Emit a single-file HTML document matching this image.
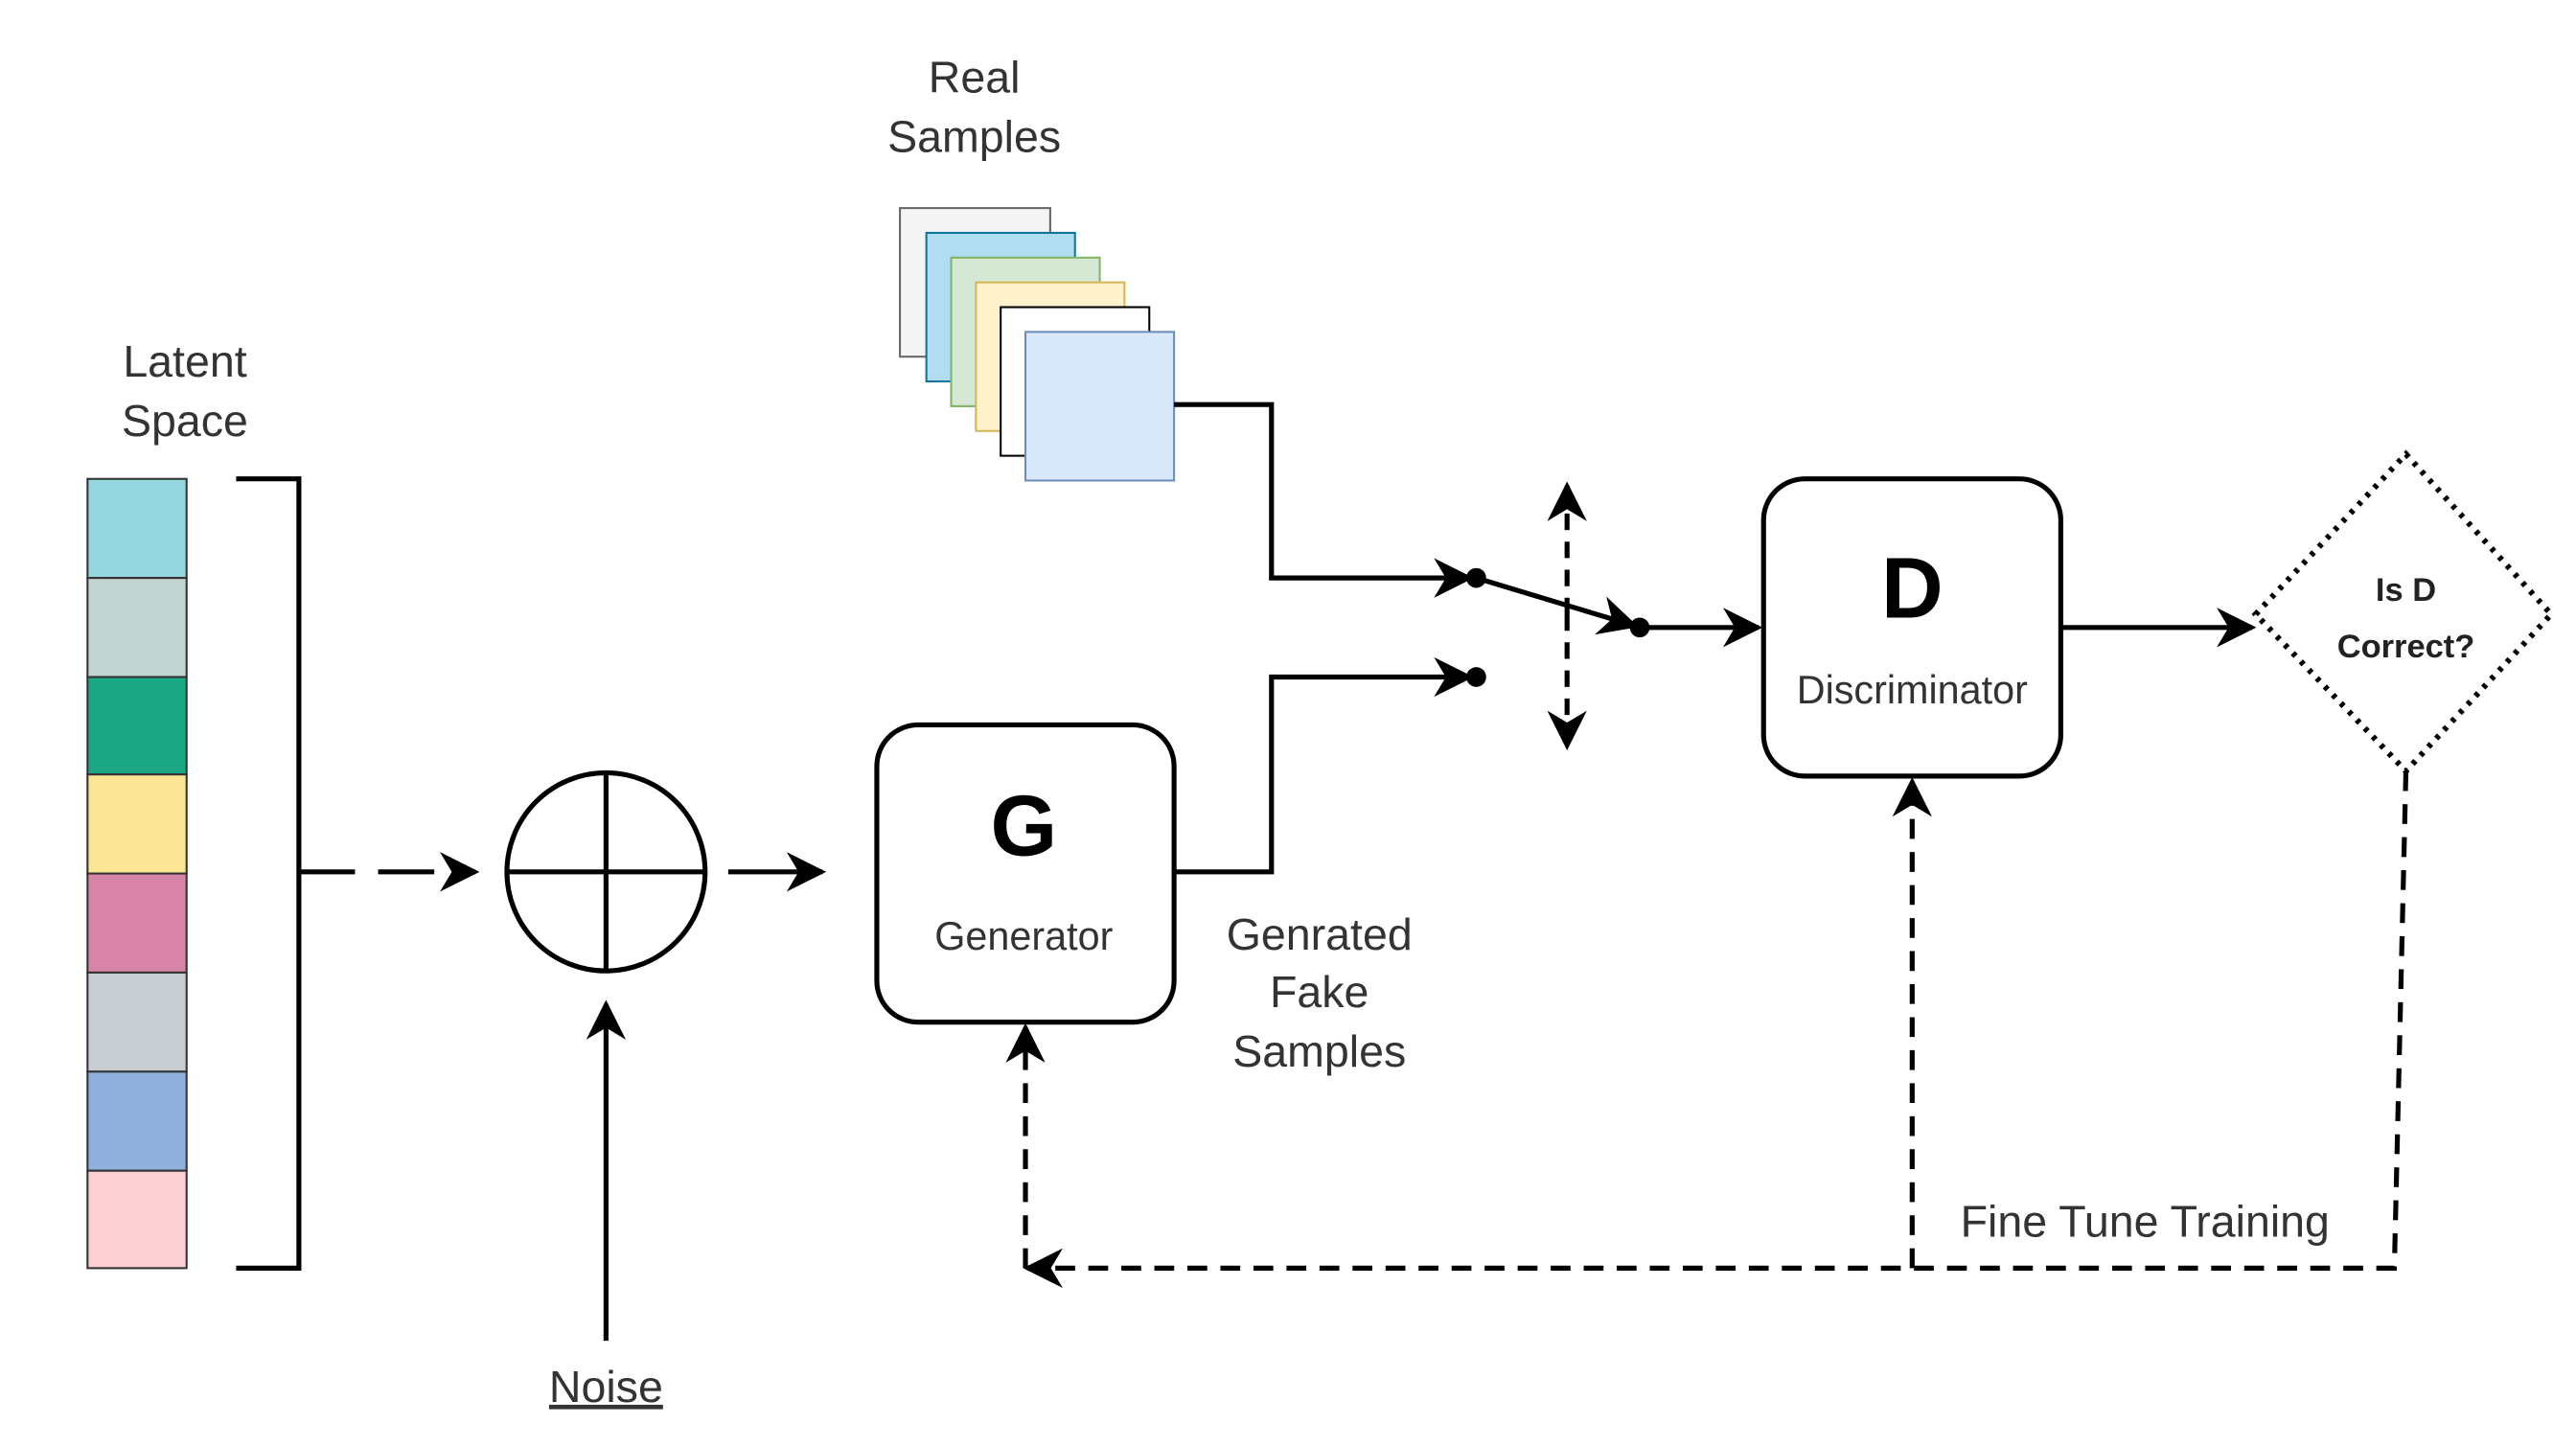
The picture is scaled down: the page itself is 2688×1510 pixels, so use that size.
<!DOCTYPE html>
<html><head><meta charset="utf-8"><style>html,body{margin:0;padding:0;background:#fff}svg{display:block}</style></head>
<body>
<svg width="2688" height="1510" viewBox="0 0 1560 876.3" xmlns="http://www.w3.org/2000/svg" font-family="Liberation Sans, sans-serif">
<defs>
<marker id="b" viewBox="0 0 10 10" refX="9" refY="5" markerWidth="24" markerHeight="24" markerUnits="userSpaceOnUse" orient="auto"><path d="M0,0 L10,5 L0,10 L3,5 z" fill="#000"/></marker>
</defs>
<g fill="#333" font-size="27" text-anchor="middle">
<text x="590" y="56">Real</text><text x="590" y="92">Samples</text>
<text x="112" y="228">Latent</text><text x="112" y="264">Space</text>
<text x="799" y="575">Genrated</text><text x="799" y="610">Fake</text><text x="799" y="646">Samples</text>
<text x="1299" y="749">Fine Tune Training</text>
<text x="367" y="849" text-decoration="underline">Noise</text>
</g>
<!-- samples -->
<rect x="545" y="126" width="91" height="90" fill="#f5f5f5" stroke="#666" stroke-width="1.2"/>
<rect x="561" y="141" width="90" height="90" fill="#b1ddf0" stroke="#10739e" stroke-width="1.2"/>
<rect x="576" y="156" width="90" height="90" fill="#d5e8d4" stroke="#82b366" stroke-width="1.2"/>
<rect x="591" y="171" width="90" height="90" fill="#fff2cc" stroke="#d6b656" stroke-width="1.2"/>
<rect x="606" y="186" width="90" height="90" fill="#fff" stroke="#000" stroke-width="1.2"/>
<rect x="621" y="201" width="90" height="90" fill="#dae8fc" stroke="#6c8ebf" stroke-width="1.2"/>
<!-- latent -->
<g stroke="#333" stroke-width="1.2">
<rect x="53" y="290" width="60" height="60" fill="#93d6dd"/>
<rect x="53" y="350" width="60" height="60" fill="#c3d5d3"/>
<rect x="53" y="410" width="60" height="59" fill="#1ba784"/>
<rect x="53" y="469" width="60" height="60" fill="#fce595"/>
<rect x="53" y="529" width="60" height="60" fill="#d784a8"/>
<rect x="53" y="589" width="60" height="60" fill="#c8ccd3"/>
<rect x="53" y="649" width="60" height="60" fill="#8fb0dc"/>
<rect x="53" y="709" width="60" height="59" fill="#fccfd4"/>
</g>
<g fill="none" stroke="#000" stroke-width="3">
<path d="M143,290 H181 V768 H143"/>
<path d="M181,528 H288" stroke-dasharray="34,14" marker-end="url(#b)"/>
<circle cx="367" cy="528" r="60"/>
<path d="M307,528 H427 M367,468 V588"/>
<path d="M441,528 H498" marker-end="url(#b)"/>
<path d="M367,812 V608" marker-end="url(#b)"/>
<rect x="531" y="439" width="180" height="180" rx="25"/>
<rect x="1068" y="290" width="180" height="180" rx="25"/>
<path d="M711,245 H770 V350 H890" marker-end="url(#b)"/>
<path d="M711,528 H770 V410 H890" marker-end="url(#b)"/>
<path d="M894,350 L990,379" marker-end="url(#b)"/>
<path d="M993,380 H1065" marker-end="url(#b)"/>
<path d="M1248,380 H1364" marker-end="url(#b)"/>
<path d="M949,372 V294" stroke-dasharray="10,7" marker-end="url(#b)"/>
<path d="M949,372 V452" stroke-dasharray="10,7" marker-end="url(#b)"/>
<path d="M1457,275 L1545,372 L1457,467 L1366,372 Z" stroke-dasharray="2.5,4.5" stroke-width="3.5"/>
<path d="M1457,467 L1450,768 H622" stroke-dasharray="12,8" marker-end="url(#b)"/>
<path d="M621,768 V622" stroke-dasharray="12,8" marker-end="url(#b)"/>
<path d="M1158,768 V473" stroke-dasharray="12,8" marker-end="url(#b)"/>
</g>
<circle cx="894" cy="350" r="6"/><circle cx="894" cy="410" r="6"/><circle cx="993" cy="380" r="6"/>
<g text-anchor="middle">
<text x="620" y="518" font-size="52" font-weight="bold">G</text>
<text x="620" y="575" font-size="24" fill="#333">Generator</text>
<text x="1158" y="374" font-size="52" font-weight="bold">D</text>
<text x="1158" y="426" font-size="24" fill="#333">Discriminator</text>
<text x="1457" y="364" font-size="20" font-weight="bold" fill="#222">Is D</text>
<text x="1457" y="398" font-size="20" font-weight="bold" fill="#222">Correct?</text>
</g>
</svg>
</body></html>
